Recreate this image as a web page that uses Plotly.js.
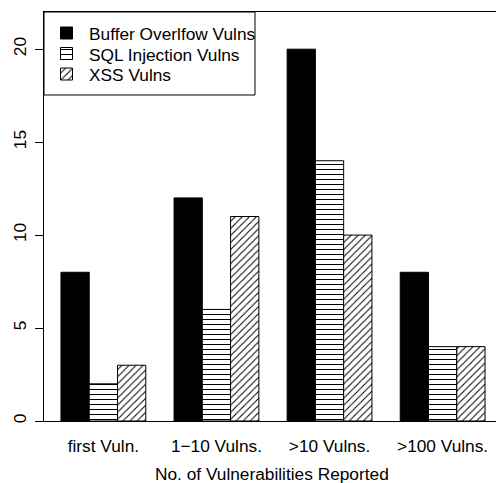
<!DOCTYPE html>
<html>
<head>
<meta charset="utf-8">
<script src="https://cdn.plot.ly/plotly-3.0.1.min.js"></script>
<style>html,body{margin:0;padding:0;overflow:hidden;background:#fff;}</style>
</head>
<body>
<div id="chart" style="width:496px;height:483px;"></div>
<script>
var categories = ["first Vuln.", "1\u221210 Vulns.", ">10 Vulns.", ">100 Vulns."];
var bufferOverflow = [8, 12, 20, 8];
var sqlInjection = [2, 6, 14, 4];
var xss = [3, 11, 10, 4];
var seriesNames = ["Buffer Overlfow Vulns", "SQL Injection Vulns", "XSS Vulns"];
var yTicks = [0, 5, 10, 15, 20];
var xTitle = "No. of Vulnerabilities Reported";

var font = "Liberation Sans, Arial, Helvetica, sans-serif";
var fs = 17.3;
var idx = categories.map(function(_, i){ return i; });

var fills = ["#000000", "#ffffff", "#ffffff"];
var patterns = ["", "-", "/"];

function markerFor(k) {
  var m = {color: fills[k], line: {color: "#000000", width: 1}};
  if (patterns[k]) m.pattern = {shape: patterns[k], size: 5, solidity: 0.2, fgcolor: "#000000", bgcolor: "#ffffff"};
  return m;
}

var series = [bufferOverflow, sqlInjection, xss];
var traces = series.map(function(vals, k){
  return {type: "bar", name: seriesNames[k], x: idx, y: vals, marker: markerFor(k), xaxis: "x", yaxis: "y"};
});

// legend swatches drawn in a pixel-like overlay axis so the row spacing matches
var legRows = [33, 53.5, 74];
seriesNames.forEach(function(n, k){
  traces.push({
    type: "bar", orientation: "h", xaxis: "x2", yaxis: "y2",
    y: [legRows[k]], x: [12], base: 60.5, width: 12, offset: -6,
    marker: markerFor(k), hoverinfo: "skip"
  });
});

var annotations = seriesNames.map(function(n, k){
  return {xref: "x2", yref: "y2", x: 87, y: legRows[k] + 1, text: n, showarrow: false,
          xanchor: "left", yanchor: "middle", font: {family: font, size: fs, color: "#000000"}};
});
annotations.push({xref: "paper", yref: "paper", x: 0.5044, y: -0.1296, text: xTitle, showarrow: false,
                  xanchor: "center", yanchor: "middle", font: {family: font, size: fs, color: "#000000"}});

var layout = {
  width: 496, height: 483,
  margin: {l: 44, r: 0, t: 12, b: 62},
  paper_bgcolor: "#ffffff", plot_bgcolor: "rgba(0,0,0,0)",
  font: {family: font, size: fs, color: "#000000"},
  barmode: "group", bargap: 0.25, bargroupgap: 0,
  showlegend: false,
  xaxis: {
    range: [-0.525, 3.472], tickmode: "array", tickvals: idx, ticktext: categories,
    showline: true, linecolor: "#000000", linewidth: 1, mirror: true,
    ticks: "", showgrid: false, zeroline: false, ticklabelstandoff: 9,
    tickfont: {family: font, size: fs}
  },
  yaxis: {
    range: [0, 22], tickmode: "array", tickvals: yTicks,
    showline: true, linecolor: "#000000", linewidth: 1,
    ticks: "outside", ticklen: 8, tickcolor: "#000000",
    tickangle: -90, ticklabelstandoff: 2,
    showgrid: false, zeroline: false,
    tickfont: {family: font, size: fs}
  },
  xaxis2: {domain: [0, 1], range: [44, 496], anchor: "y2", visible: false, fixedrange: true},
  yaxis2: {domain: [0, 1], range: [421, 12], anchor: "x2", visible: false, fixedrange: true},
  shapes: [{type: "rect", xref: "x2", yref: "y2", x0: 44, x1: 255, y0: 12, y1: 95,
            line: {color: "#000000", width: 1}, fillcolor: "rgba(0,0,0,0)", layer: "above"}],
  annotations: annotations
};

Plotly.newPlot("chart", traces, layout, {displayModeBar: false, staticPlot: true});
</script>
</body>
</html>
